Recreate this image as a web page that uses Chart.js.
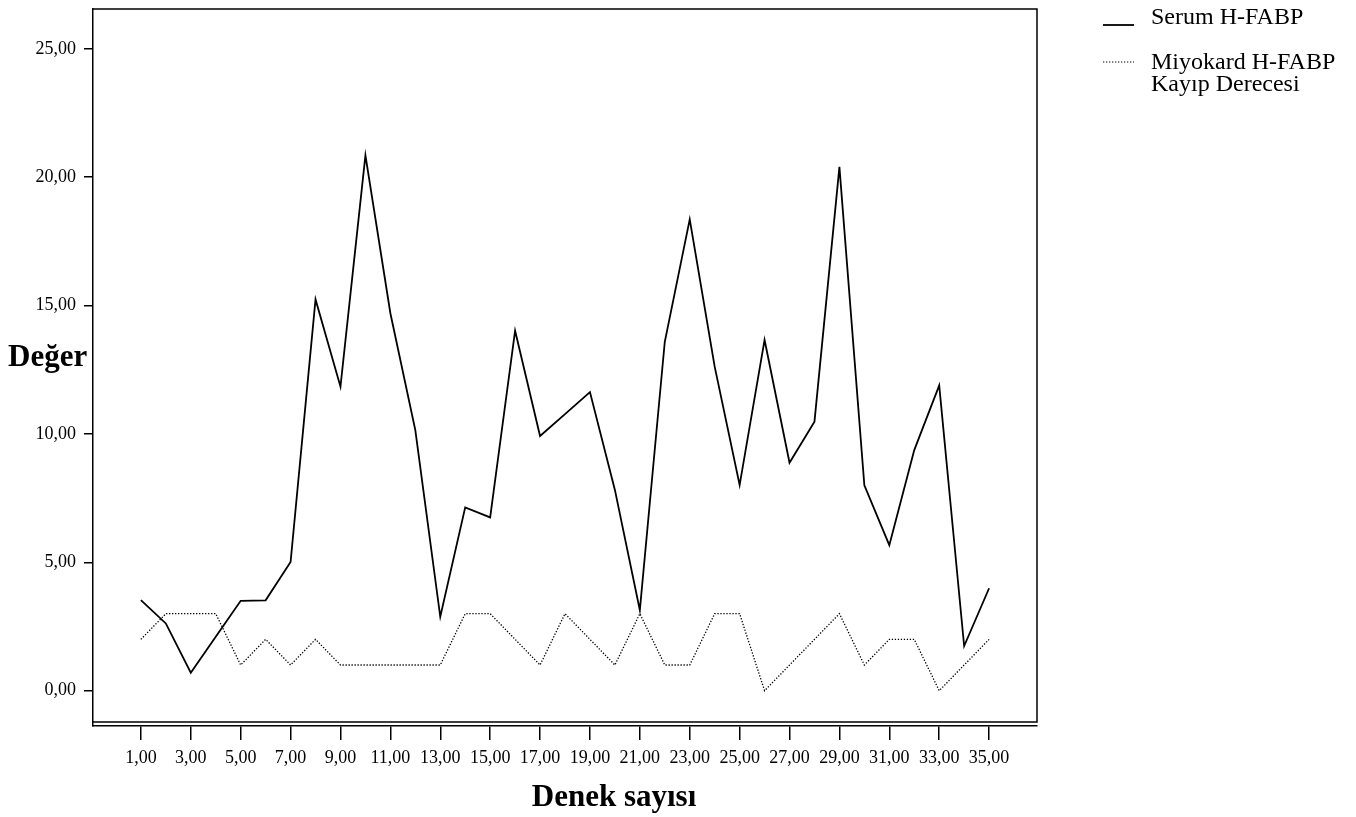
<!DOCTYPE html>
<html>
<head>
<meta charset="utf-8">
<script src="https://cdn.jsdelivr.net/npm/chart.js@4/dist/chart.umd.min.js"></script>
<style>
  html, body { margin: 0; padding: 0; background: #fff; }
  #wrap { width: 1356px; height: 817px; }
</style>
</head>
<body>
<div id="wrap"><canvas id="chart" width="1356" height="817"></canvas></div>
<script>
// data
const subjects = [1,2,3,4,5,6,7,8,9,10,11,12,13,14,15,16,17,18,19,20,21,22,23,24,25,26,27,28,29,30,31,32,33,34,35];
const serum = [3.53, 2.62, 0.70, 2.10, 3.50, 3.52, 5.01, 15.24, 11.84, 20.85, 14.70, 10.15, 2.88, 7.14, 6.75, 14.02, 9.92, 10.77, 11.63, 7.82, 3.14, 13.59, 18.36, 12.62, 8.01, 13.66, 8.88, 10.48, 20.40, 8.00, 5.67, 9.37, 11.89, 1.74, 3.99];
const miyokard = [2,3,3,3,1,2,1,2,1,1,1,1,1,3,3,2,1,3,2,1,3,1,1,3,3,0,1,2,3,1,2,2,0,1,2];
const xTicks = [1,3,5,7,9,11,13,15,17,19,21,23,25,27,29,31,33,35];
const yTicks = [0,5,10,15,20,25];
const serumLabel = 'Serum H-FABP';
const miyokardLabel = ['Miyokard H-FABP', 'Kayıp Derecesi'];
const xTitle = 'Denek sayısı';
const yTitle = 'Değer';

const FONT = '"Liberation Serif", "Times New Roman", serif';
const fmt = v => Number(v).toFixed(2).replace('.', ',');

// box around the plot, legend and axis titles
const decor = {
    id: 'decor',
    afterDraw(chart) {
        const ctx = chart.ctx;
        const a = chart.chartArea;
        ctx.save();
        ctx.strokeStyle = '#000';
        ctx.lineWidth = 1.5;
        ctx.beginPath();
        ctx.moveTo(a.left, a.top);
        ctx.lineTo(a.right, a.top);
        ctx.lineTo(a.right, a.bottom - 4);
        ctx.lineTo(a.left, a.bottom - 4);
        ctx.stroke();

        // legend
        const ds = chart.data.datasets;
        const lx = 1103, tx = 1151;
        const rows = [{y: 25, textY: 18}, {y: 62, textY: 63}];
        ds.forEach((d, i) => {
            ctx.strokeStyle = d.borderColor;
            ctx.lineWidth = i === 0 ? 1.8 : 1.2;
            ctx.setLineDash(d.borderDash || []);
            ctx.beginPath();
            ctx.moveTo(lx, rows[i].y);
            ctx.lineTo(lx + 31, rows[i].y);
            ctx.stroke();
            ctx.setLineDash([]);
            ctx.fillStyle = '#000';
            ctx.font = '24px ' + FONT;
            ctx.textBaseline = 'middle';
            ctx.textAlign = 'left';
            const lines = Array.isArray(d.label) ? d.label : [d.label];
            lines.forEach((t, k) => ctx.fillText(t, tx, rows[i].textY + k * 22));
        });

        // axis titles
        ctx.font = 'bold 31px ' + FONT;
        ctx.textBaseline = 'middle';
        ctx.textAlign = 'left';
        ctx.fillText(yTitle, 8, 358);
        ctx.textAlign = 'center';
        ctx.fillText(xTitle, 614, 798);
        ctx.restore();
    }
};

const ctx = document.getElementById('chart').getContext('2d');

new Chart(ctx, {
    type: 'line',
    data: {
        datasets: [{
            label: serumLabel,
            data: subjects.map((s, i) => ({x: s, y: serum[i]})),
            borderColor: '#000',
            borderWidth: 1.8,
            pointRadius: 0,
            tension: 0,
            fill: false,
        }, {
            label: miyokardLabel,
            data: subjects.map((s, i) => ({x: s, y: miyokard[i]})),
            borderColor: '#000',
            borderWidth: 1.3,
            borderDash: [1.3, 1.7],
            pointRadius: 0,
            tension: 0,
            fill: false,
        }],
    },
    options: {
        responsive: false,
        animation: false,
        layout: {
            padding: {left: 0, top: 9, right: 319, bottom: 0},
        },
        plugins: {
            legend: {display: false},
            tooltip: {enabled: false},
        },
        scales: {
            x: {
                type: 'linear',
                min: -0.92,
                max: 36.92,
                afterBuildTicks: scale => { scale.ticks = xTicks.map(v => ({value: v})); },
                afterFit: scale => { scale.height = 91; scale.paddingLeft = 0; scale.paddingRight = 0; },
                border: {display: true, color: '#000', width: 1.5},
                grid: {drawOnChartArea: false, drawTicks: true, tickLength: 14, color: '#000', lineWidth: 1.5},
                ticks: {
                    color: '#000',
                    font: {family: FONT, size: 18},
                    padding: 7,
                    maxRotation: 0,
                    autoSkip: false,
                    callback: v => fmt(v),
                },
            },
            y: {
                min: -1.375,
                max: 26.55,
                afterBuildTicks: scale => { scale.ticks = yTicks.map(v => ({value: v})); },
                afterFit: scale => { scale.width = 93; scale.paddingTop = 0; scale.paddingBottom = 0; },
                border: {display: true, color: '#000', width: 1.5},
                grid: {drawOnChartArea: false, drawTicks: true, tickLength: 9, color: '#000', lineWidth: 1.5},
                ticks: {
                    color: '#000',
                    font: {family: FONT, size: 18},
                    padding: 8,
                    callback: v => fmt(v),
                },
            },
        },
    },
    plugins: [decor],
});
</script>
</body>
</html>
